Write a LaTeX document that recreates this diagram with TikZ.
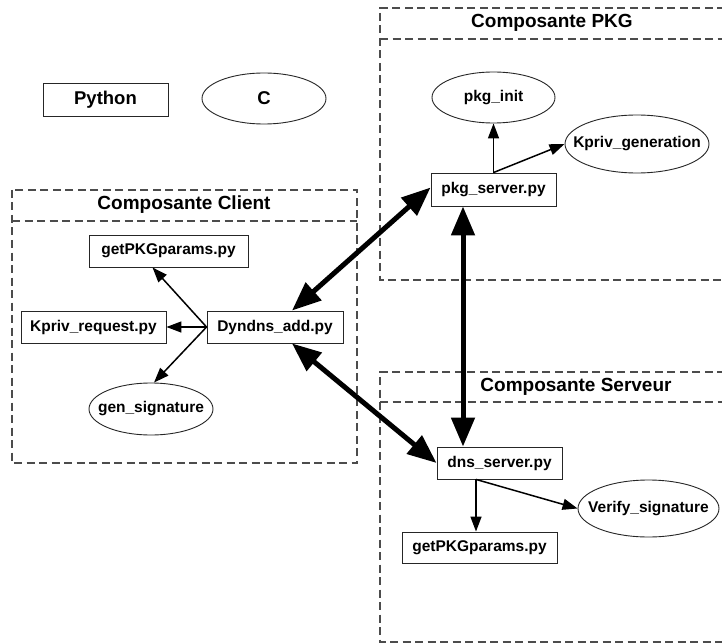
\documentclass[tikz,border=0pt]{standalone}
\usepackage{fontspec}
\setmainfont{Liberation Sans}
\usetikzlibrary{arrows.meta,shapes.geometric,calc}
\newcommand{\zw}[1]{\makebox[0pt]{#1}}
\begin{document}
\begin{tikzpicture}[x=1pt,y=-1pt,
  every node/.style={font=\bfseries\fontsize{15.5}{18}\selectfont,inner sep=0pt},
  rbox/.style={draw=black!85,line width=0.9pt,rectangle},
  ebox/.style={draw=black!85,line width=0.9pt,ellipse},
  legend/.style={font=\bfseries\fontsize{18.5}{22}\selectfont},
  title/.style={font=\bfseries\fontsize{19}{22}\selectfont},
  comp/.style={draw=black!70,line width=1.1pt,dash pattern=on 8pt off 4.5pt},
  smallarrow/.style={draw=black,line width=1.5pt,-{Triangle[length=15pt 0 0,width=11pt 0 0]}},
  bigarrow/.style={draw=black,line width=5pt,{Triangle[length=29pt 0 0,width=23pt 0 0]}-{Triangle[length=29pt 0 0,width=23pt 0 0]}}]
\useasboundingbox (0,0) rectangle (722,644);
\fill[white] (0,0) rectangle (722,644);

% component frames
\draw[comp] (12,190) rectangle (357,463);
\draw[comp] (12,221) -- (357,221);
\draw[comp] (725,8) -- (380,8) -- (380,280) -- (725,280);
\draw[comp] (380,39) -- (725,39);
\draw[comp] (725,372) -- (380,372) -- (380,642) -- (725,642);
\draw[comp] (380,402) -- (725,402);

\node[title] (tclient) at (184,205) {Composante Client};
\node[title] (tpkg) at (552,23) {Composante PKG};
\node[title] (tserv) at (576,387) {Composante Serveur};

% legend
\node[rbox,legend,minimum width=125pt,minimum height=33pt] (py) at (105.5,99.5) {Python};
\node[ebox,legend,minimum width=124pt,minimum height=51pt] (cc) at (264,98.5) {\zw{C}};

% client
\node[rbox,minimum width=159pt,minimum height=32pt] (gp1) at (168.5,251) {getPKGparams.py};
\node[rbox,minimum width=145pt,minimum height=32pt] (kr) at (93.5,327) {Kpriv\_request.py};
\node[rbox,minimum width=136pt,minimum height=32pt] (dy) at (275,327) {Dyndns\_add.py};
\node[ebox,minimum width=124pt,minimum height=52pt] (gs) at (151,409) {\zw{gen\_signature}};

% pkg
\node[ebox,minimum width=123pt,minimum height=51pt] (pi) at (493.5,97.5) {\zw{pkg\_init}};
\node[ebox,minimum width=144pt,minimum height=58pt] (kg) at (637,144) {\zw{Kpriv\_generation}};
\node[rbox,minimum width=125pt,minimum height=33pt] (ps) at (493.5,189.5) {pkg\_server.py};

% server
\node[rbox,minimum width=125pt,minimum height=32pt] (ds) at (499.5,463) {dns\_server.py};
\node[ebox,minimum width=141pt,minimum height=57pt] (vs) at (648.5,508.5) {\zw{Verify\_signature}};
\node[rbox,minimum width=155pt,minimum height=31pt] (gp2) at (479.5,547.5) {getPKGparams.py};

% thin arrows
\draw[smallarrow] (dy.west) -- ([xshift=-16pt]gp1.south);
\draw[smallarrow] (dy.west) -- (kr.east);
\draw[smallarrow] (dy.west) -- ([xshift=3pt]gs.north);
\draw[smallarrow] (ps.north) -- (pi.south);
\draw[smallarrow] (ps.north) -- (kg.west);
\draw[smallarrow] ([xshift=-23.5pt]ds.south) -- ([xshift=-3.5pt]gp2.north);
\draw[smallarrow] ([xshift=-23.5pt]ds.south) -- (vs.west);

% thick arrows
\draw[bigarrow] ([xshift=17pt]dy.north) -- ([yshift=2pt]ps.west);
\draw[bigarrow] ([xshift=17pt]dy.south) -- (ds.west);
\draw[bigarrow] ([xshift=-30.5pt]ps.south) -- ([xshift=-36.5pt]ds.north);
\end{tikzpicture}
\end{document}
